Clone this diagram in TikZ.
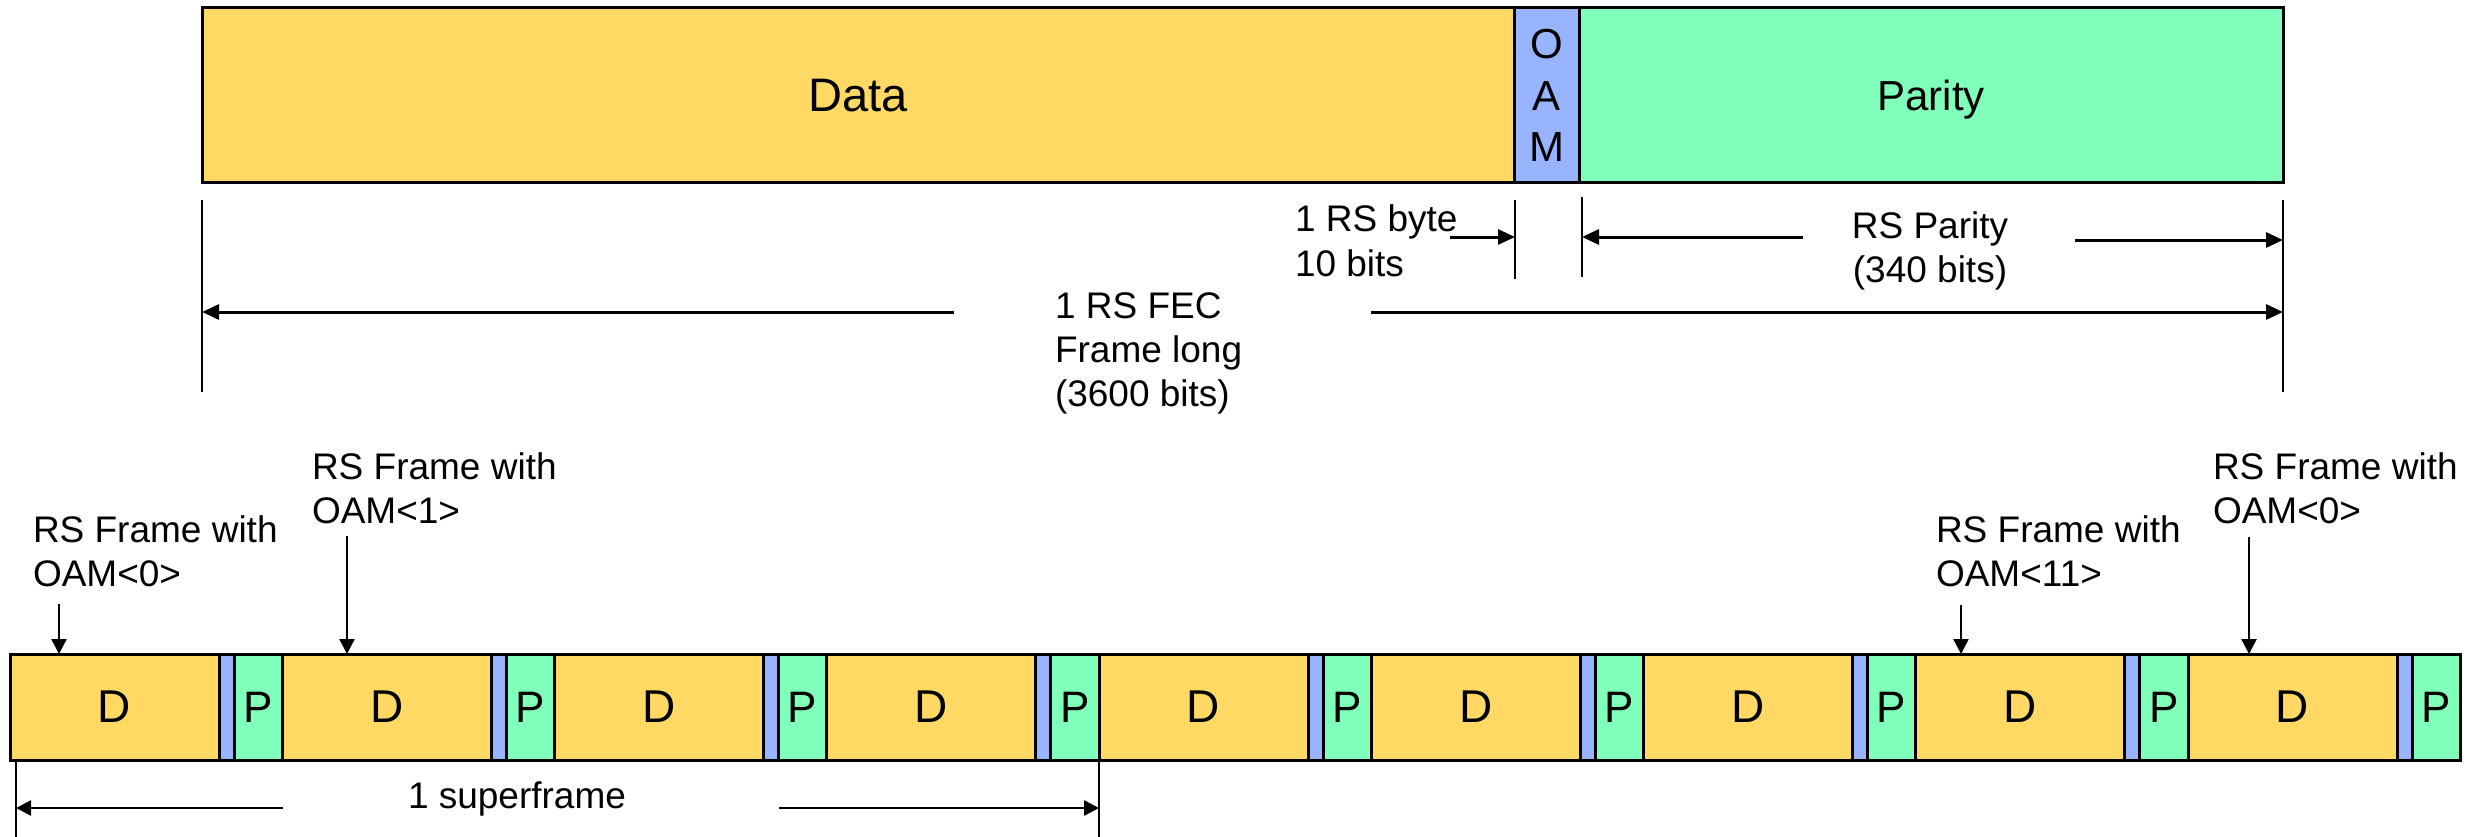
\documentclass[tikz,border=0pt]{standalone}
\usepackage{fontspec}
\setmainfont{Liberation Sans}
\usetikzlibrary{arrows.meta}
\definecolor{datayellow}{RGB}{255,217,99}
\definecolor{paritygreen}{RGB}{127,255,185}
\definecolor{oamblue}{RGB}{153,180,255}
\begin{document}
\begin{tikzpicture}[x=1pt,y=-1pt,
  seg/.style={draw=black,line width=3pt,inner sep=0pt,outer sep=0pt,
              minimum height=106pt,anchor=west},
  % multi-line labels are placed by the baseline of their last line
  lbl/.style={inner sep=0pt,outer sep=0pt,align=left,anchor=base west,
              font=\fontsize{37}{44}\selectfont},
  tick/.style={line width=2pt},
  dimarrow/.style={line width=3pt,-{Triangle[length=17pt,width=15pt]}},
  ptr/.style={line width=2.5pt,-{Triangle[length=15pt,width=15pt]}}]
\useasboundingbox (0,0) rectangle (2473,837);

% ---- one RS FEC frame ----
\node[seg,fill=datayellow,minimum width=1312pt,minimum height=175pt,
      font=\fontsize{47}{56}\selectfont] (data) at (202,95.5) {Data};
\node[seg,fill=oamblue,minimum width=65pt,minimum height=175pt,align=center,
      font=\fontsize{42}{51.5}\selectfont] (oam) at (data.east) {O\\A\\M};
\node[seg,fill=paritygreen,minimum width=704pt,minimum height=175pt,text depth=0pt,
      font=\fontsize{42}{51.5}\selectfont] (par) at (oam.east) {Parity};

% extension lines
\coordinate (xl) at (202,200);
\coordinate (xo1) at (1515,200);
\coordinate (xo2) at (1582,197);
\coordinate (xr) at (2283,200);
\draw[tick] (xl) -- ++(0,192);
\draw[tick] (xo1) -- ++(0,79);
\draw[tick] (xo2) -- ++(0,80);
\draw[tick] (xr) -- ++(0,192);

% labels
\node[lbl] (byte) at (1295,276) {1 RS byte\\10 bits};
\node[lbl,align=center,anchor=base] (rspar) at (1930,282) {RS Parity\\(340 bits)};
\node[lbl] (fec) at (1055,406) {1 RS FEC\\Frame long\\(3600 bits)};

% dimension arrows
\coordinate (bs) at (1450,237);
\draw[dimarrow] (bs) -- (bs -| xo1);
\coordinate (ps1) at (1803,237);
\draw[dimarrow] (ps1) -- (ps1 -| xo2);
\coordinate (ps2) at (2075,240);
\draw[dimarrow] (ps2) -- (ps2 -| xr);
\coordinate (fs1) at (954,312);
\draw[dimarrow] (fs1) -- (fs1 -| xl);
\coordinate (fs2) at (1371,312);
\draw[dimarrow] (fs2) -- (fs2 -| xr);

% ---- superframe of nine RS frames ----
\foreach \k in {1,...,9}{
  \pgfmathsetmacro{\xd}{10+(\k-1)*272.25}
  \node[seg,fill=datayellow,minimum width=209pt,
        font=\fontsize{46}{52}\selectfont] (d\k) at (\xd,707) {D};
  \node[seg,fill=oamblue,minimum width=15pt] (o\k) at (d\k.east) {};
  \node[seg,fill=paritygreen,minimum width=48.25pt,
        font=\fontsize{44}{52}\selectfont] (p\k) at (o\k.east) {P};
}

% frame markers
\node[lbl] (m0) at (33,586) {RS Frame with\\OAM<0>};
\node[lbl] (m1) at (312,523) {RS Frame with\\OAM<1>};
\node[lbl] (m11) at (1936,586) {RS Frame with\\OAM<11>};
\node[lbl] (m0b) at (2213,523) {RS Frame with\\OAM<0>};
\coordinate (a0) at (59,604);
\coordinate (a1) at (347,536);
\coordinate (a11) at (1961,605);
\coordinate (a0b) at (2249,537);
\draw[ptr] (a0) -- (a0 |- d1.north);
\draw[ptr] (a1) -- (a1 |- d2.north);
\draw[ptr] (a11) -- (a11 |- d8.north);
\draw[ptr] (a0b) -- (a0b |- d9.north);

% superframe length
\coordinate (sl) at (16,760);
\coordinate (sr) at (p4.south east);
\draw[tick] (sl) -- (16,837);
\draw[tick] (sr) -- (sr |- sl) -- ++(0,77);
\node[lbl,anchor=base] (sf) at (517,808) {1 superframe};
\coordinate (ss1) at (283,808);
\coordinate (ss2) at (779,808);
\draw[ptr] (ss1) -- (ss1 -| sl);
\draw[ptr] (ss2) -- (ss2 -| sr);
\end{tikzpicture}
\end{document}
